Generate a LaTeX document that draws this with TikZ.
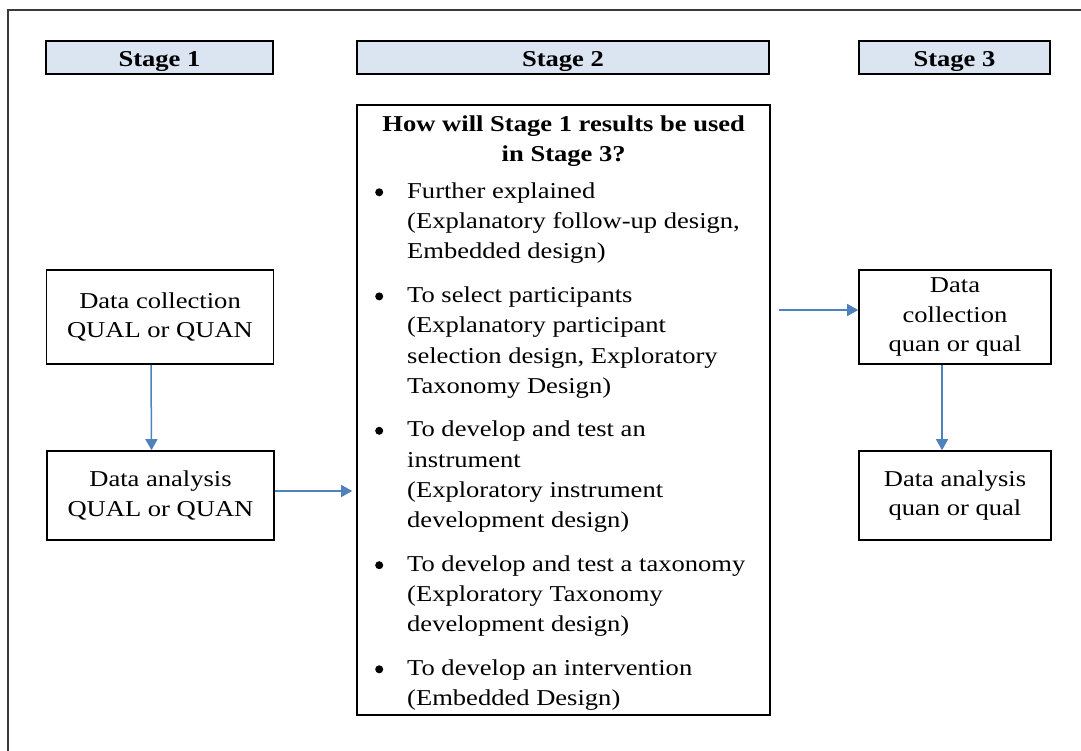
\documentclass[tikz,border=0pt]{standalone}
\usepackage{fontspec}
\setmainfont{Liberation Serif}[FakeStretch=1.17]
\usetikzlibrary{arrows.meta}
\definecolor{hdrfill}{HTML}{DBE5F1}
\definecolor{arrowblue}{HTML}{4F81BD}
\definecolor{framegray}{HTML}{3A3A3A}
\newcommand\bulletdot{\tikz[baseline=0pt]\fill[black] (4bp,6bp) circle (4bp);}
\newcommand\mitem[1]{\hangindent=32bp\hangafter=1\noindent\makebox[32bp][l]{\bulletdot}#1\par}
\begin{document}
\begin{tikzpicture}[x=1bp,y=-1bp,
  every node/.style={font=\fontsize{22.7bp}{29.5bp}\selectfont, inner sep=0pt},
  hdr/.style={draw=black, line width=1.6bp, fill=hdrfill, font=\fontsize{22.7bp}{29.5bp}\selectfont\bfseries, minimum height=33bp, text height=24bp, text depth=5bp},
  stepbox/.style={draw=black, line width=1.6bp, fill=white, align=center, minimum height=94bp},
  bigbox/.style={draw=black, line width=1.6bp},
  flow/.style={draw=arrowblue, line width=1.5bp, -{Triangle[length=11bp,width=12bp]}}
]
\useasboundingbox (0,0) rectangle (1081,751);
\draw[framegray, line width=2bp] (8,751) -- (8,10) -- (1081,10);

\node[hdr, minimum width=227bp] (h1) at (159.5,57.5) {Stage 1};
\node[hdr, minimum width=412bp] (h2) at (563,57.5) {Stage 2};
\node[hdr, minimum width=191bp] (h3) at (954.5,57.5) {Stage 3};

\node[stepbox, minimum width=227bp] (l1) at (160,317) {Data collection\\QUAL or QUAN};
\node[stepbox, minimum width=227bp, minimum height=89bp] (l2) at (160.5,495.5) {Data analysis\\QUAL or QUAN};
\node[stepbox, minimum width=192bp] (r1) at (955,317) {Data\\collection\\quan or qual};
\node[stepbox, minimum width=192bp, minimum height=89bp] (r2) at (955,495.5) {Data analysis\\quan or qual};
\node[bigbox, minimum width=413bp, minimum height=610bp] (mid) at (563.5,410) {};

\node[anchor=base west] (midtext) at (375,131) {\begin{minipage}[t]{420bp}
\fontsize{22.7bp}{30.3bp}\selectfont
\makebox[377bp][c]{\bfseries How will Stage 1 results be used}\\
\makebox[377bp][c]{\bfseries in Stage 3?}\par
\vspace{6.7bp}
\mitem{Further explained\\(Explanatory follow-up design,\\Embedded design)}
\vspace{13.2bp}
\mitem{To select participants\\(Explanatory participant\\selection design, Exploratory\\Taxonomy Design)}
\vspace{13.2bp}
\mitem{To develop and test an\\instrument\\(Exploratory instrument\\development design)}
\vspace{13.2bp}
\mitem{To develop and test a taxonomy\\(Exploratory Taxonomy\\development design)}
\vspace{13.2bp}
\mitem{To develop an intervention\\(Embedded Design)}
\end{minipage}};

\draw[flow] ([xshift=-9bp]l1.south) -- ([xshift=-9bp]l2.north);
\draw[flow, shorten >=4bp] ([yshift=4.5bp]l2.east) -- ([yshift=4.5bp]l2.east -| mid.west);
\draw[flow, shorten <=8bp] ([yshift=7bp]r1.west -| mid.east) -- ([yshift=7bp]r1.west);
\draw[flow] ([xshift=-13bp]r1.south) -- ([xshift=-13bp]r2.north);
\end{tikzpicture}
\end{document}
